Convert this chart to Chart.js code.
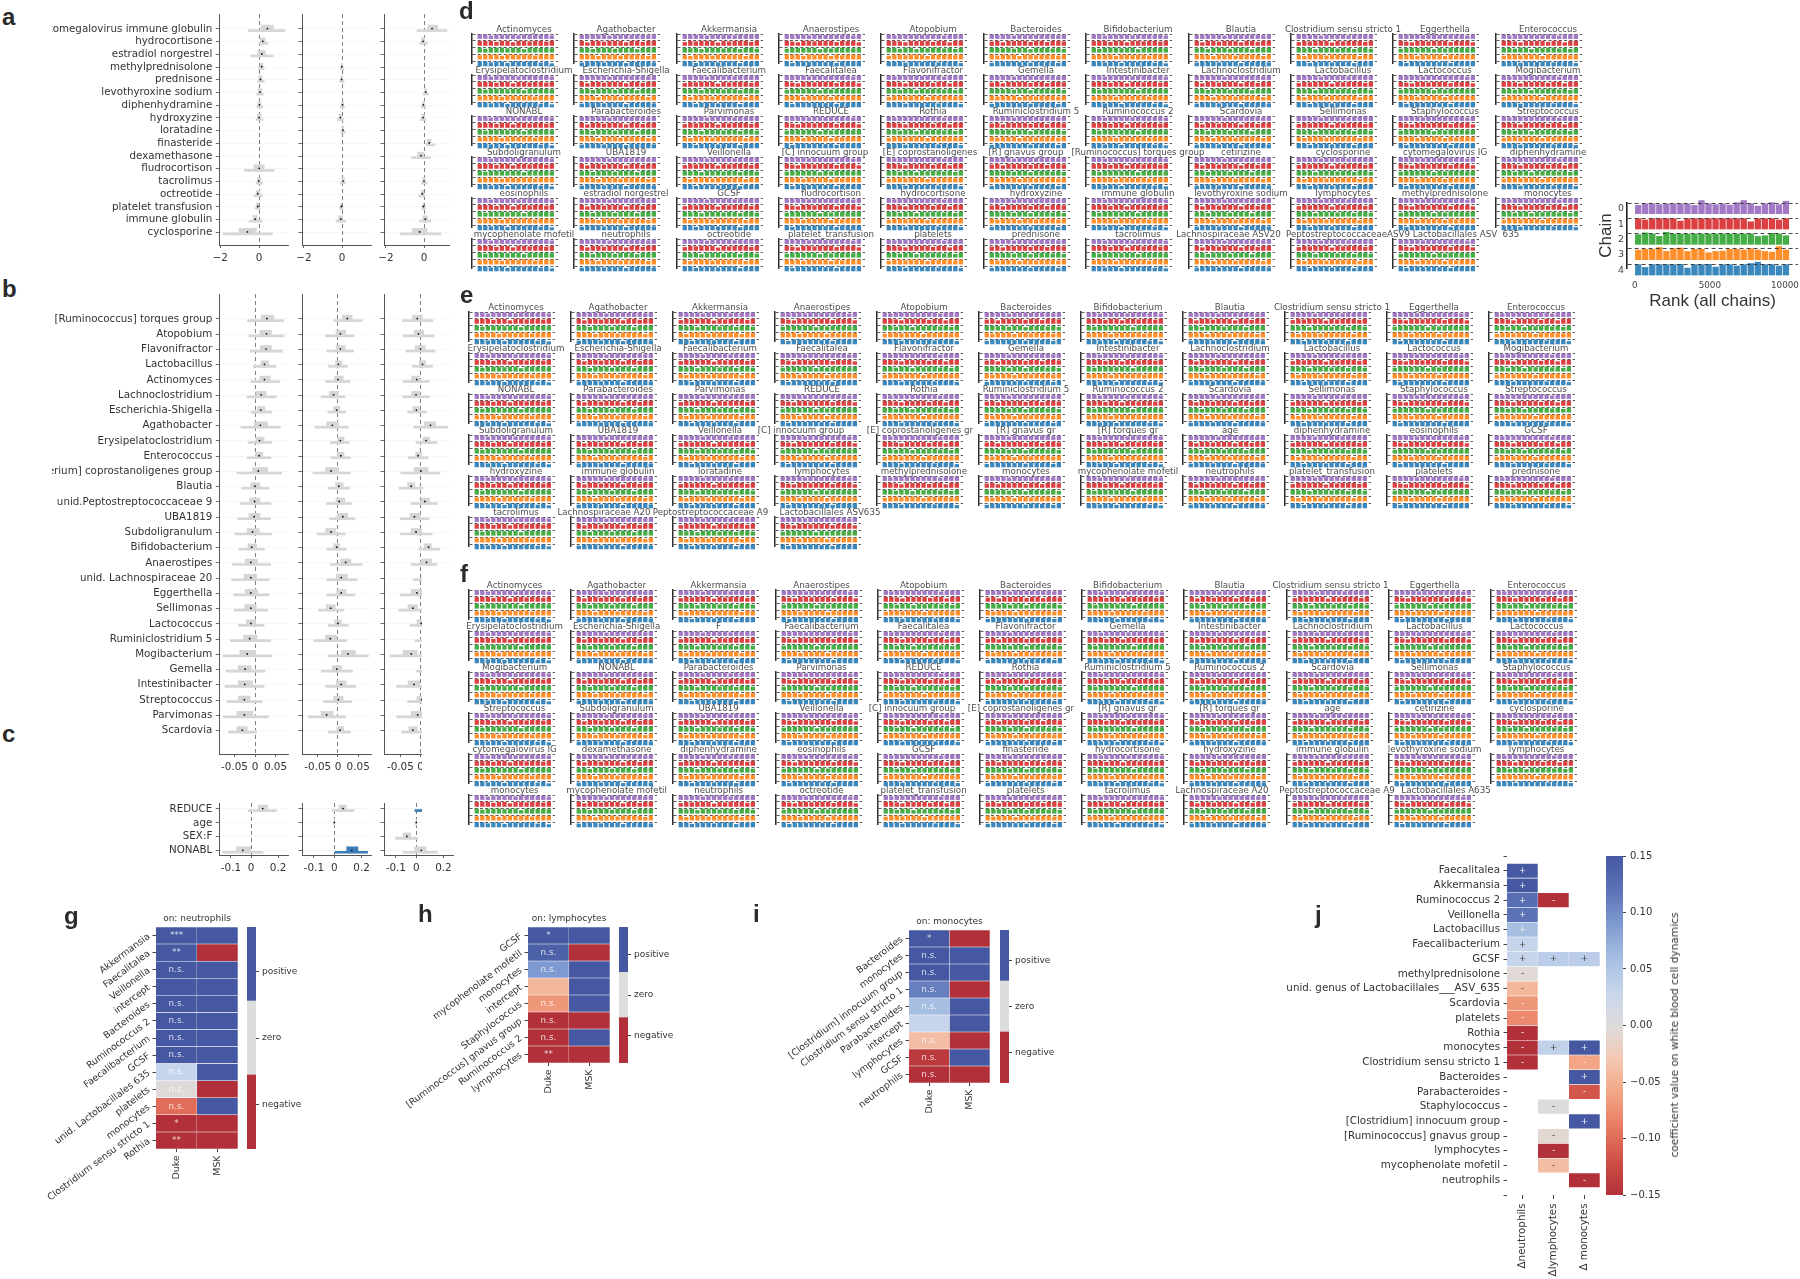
<!doctype html>
<html><head><meta charset="utf-8">
<script src="https://cdn.jsdelivr.net/npm/chart.js@4"></script>
<style>
html,body{margin:0;padding:0;background:#fff}
#fig{position:relative;width:1800px;height:1279px;overflow:hidden;background:#fff;filter:blur(.4px)}
canvas{position:absolute;display:block}
.letter{position:absolute;font:bold 24px "Liberation Sans",Arial,sans-serif;color:#2b2b2b;line-height:24px}
.patch{position:absolute;background:#fff}
.rot{position:absolute;white-space:nowrap;font:10.6px "DejaVu Sans";color:#333;transform:translate(-50%,-50%) rotate(-90deg)}
</style></head><body><div id="fig"></div>
<script>
/* ---------- panel a: medications ---------- */
const aRows=["cytomegalovirus immune globulin","hydrocortisone","estradiol norgestrel","methylprednisolone","prednisone","levothyroxine sodium","diphenhydramine","hydroxyzine","loratadine","finasteride","dexamethasone","fludrocortison","tacrolimus","octreotide","platelet transfusion","immune globulin","cyclosporine"];
const aNeutrophils=[[-.55,.1,.43,.73,1.33],[-.03,.05,.19,.31,.44],[-.43,-.08,.14,.32,.73],[-.02,.05,.14,.2,.26],[-.07,-.02,.07,.15,.26],[-.12,-.05,.05,.14,.22],[-.12,-.07,.02,.1,.19],[-.15,-.09,0,.1,.2],null,null,null,[-.75,-.26,0,.27,.77],[-.15,-.09,-.02,.09,.17],[-.26,-.15,-.07,.05,.17],[-.19,-.14,-.07,-.02,.05],[-.51,-.32,-.2,-.1,.15],[-1.86,-1.03,-.6,-.14,.68]];
const aLymphocytes=[null,null,null,[-.1,-.05,-.02,.03,.09],[-.12,-.07,-.03,.03,.1],null,[-.1,-.04,.02,.07,.12],[-.25,-.16,-.09,-.02,.07],[-.07,-.02,.04,.09,.16],null,null,null,[-.09,-.02,.05,.12,.18],null,[-.14,-.08,-.04,0,.05],[-.32,-.18,-.07,.02,.18],null];
const aMonocytes=[[-.37,.2,.42,.73,1.2],[-.23,-.14,-.05,.04,.18],null,null,null,[-.04,.02,.09,.14,.23],[-.14,-.08,-.04,.02,.1],[-.2,-.12,-.05,.02,.1],null,[.1,.15,.27,.37,.57],[-.65,-.34,-.16,-.02,.35],null,[-.14,-.07,0,.07,.16],[-.27,-.15,-.09,0,.04],[-.12,-.07,-.04,0,.07],[-.23,-.07,.07,.18,.35],[-1.26,-.62,-.23,.16,.88]];
const aTicks=[-2,0], aTickLabels=["\u22122","0"];
/* ---------- panel b: microbiome ---------- */
const bRows=["[Ruminococcus] torques group","Atopobium","Flavonifractor","Lactobacillus","Actinomyces","Lachnoclostridium","Escherichia-Shigella","Agathobacter","Erysipelatoclostridium","Enterococcus","[Eubacterium] coprostanoligenes group","Blautia","unid.Peptostreptococcaceae 9","UBA1819","Subdoligranulum","Bifidobacterium","Anaerostipes","unid. Lachnospiraceae 20","Eggerthella","Sellimonas","Lactococcus","Ruminiclostridium 5","Mogibacterium","Gemella","Intestinibacter","Streptococcus","Parvimonas","Scardovia"];
const bNeutrophils=[[-.018,.015,.029,.046,.07],[-.015,.012,.028,.04,.071],[-.012,.013,.027,.04,.067],[-.004,.015,.023,.033,.051],[-.01,.012,.023,.037,.06],[-.019,.002,.015,.027,.052],[-.009,.006,.014,.024,.041],[-.034,-.002,.013,.03,.062],[-.017,.002,.011,.022,.041],[-.019,.002,.01,.019,.039],[-.044,-.006,.008,.031,.065],[-.033,-.01,0,.012,.034],[-.036,-.013,-.001,.012,.039],[-.042,-.015,-.002,.012,.038],[-.049,-.019,-.006,.01,.04],[-.039,-.017,-.008,.004,.023],[-.055,-.024,-.01,.006,.038],[-.057,-.027,-.01,.004,.034],[-.052,-.024,-.01,.006,.034],[-.051,-.025,-.01,.003,.031],[-.041,-.021,-.01,.002,.022],[-.06,-.028,-.013,.005,.038],[-.078,-.037,-.019,.002,.04],[-.07,-.041,-.024,-.009,.024],[-.073,-.041,-.025,-.006,.022],[-.068,-.041,-.026,-.012,.017],[-.077,-.044,-.026,-.005,.033],[-.064,-.044,-.031,-.019,.004]];
const bLymphocytes=[[-.01,.011,.023,.035,.06],[-.031,-.005,.006,.019,.04],[-.028,-.005,.006,.018,.039],[-.023,-.006,.001,.01,.023],[-.031,-.009,0,.013,.03],[-.042,-.021,-.011,.001,.017],[-.025,-.011,-.003,.005,.019],[-.057,-.028,-.014,.001,.026],[-.019,-.001,.006,.015,.028],[-.017,-.002,.007,.015,.031],[-.062,-.031,-.017,.002,.03],[-.025,-.006,.002,.013,.029],[-.028,-.005,.003,.017,.033],[-.021,-.002,.012,.024,.042],[-.052,-.03,-.017,-.006,.018],[-.028,-.011,-.003,.004,.021],[-.019,.006,.019,.032,.06],[-.028,-.004,.008,.023,.047],[-.028,-.003,.008,.02,.042],[-.048,-.029,-.018,-.007,.015],[-.024,-.008,0,.008,.026],[-.06,-.031,-.019,-.003,.021],[-.025,.009,.025,.043,.075],[-.041,-.014,-.003,.009,.036],[-.031,-.004,.008,.02,.044],[-.036,-.011,.001,.013,.034],[-.074,-.042,-.028,-.012,.019],[-.023,-.003,.005,.014,.031]];
const bMonocytes=[[-.045,-.02,-.008,.005,.031],[-.043,-.016,-.005,.008,.034],[-.036,-.013,0,.012,.036],[-.02,-.003,.005,.013,.03],[-.043,-.022,-.009,-.002,.022],[-.043,-.022,-.011,-.001,.022],[-.032,-.019,-.01,-.003,.014],[-.017,.009,.025,.038,.067],[-.011,.006,.014,.023,.041],[-.03,-.012,-.006,.002,.019],[-.049,-.016,.001,.019,.048],[-.053,-.032,-.023,-.014,.006],[-.024,0,.011,.022,.042],[-.05,-.026,-.015,-.001,.021],[-.05,-.023,-.011,.003,.029],[-.004,.009,.02,.027,.048],[-.023,0,.015,.028,.041],[-.018,.004,.012,.03,.05],[-.05,-.023,-.009,.005,.02],[-.054,-.031,-.019,-.008,.015],[-.026,-.009,.002,.015,.035],[-.014,.006,.015,.03,.05],[-.075,-.043,-.023,-.008,.015],[-.01,.008,.02,.035,.055],[-.059,-.031,-.016,-.002,.015],[-.032,-.009,.003,.015,.04],[-.059,-.023,-.007,.01,.03],[-.047,-.029,-.019,-.008,.012]];
const bTicks=[-.05,0,.05], bTickLabels=["-0.05","0","0.05"];
/* ---------- panel c: covariates ---------- */
const cRows=["REDUCE","age","SEX:F","NONABL"];
const cNeutrophils=[[-.022,.052,.086,.121,.188],null,null,[-.212,-.109,-.062,-.005,.089]];
const cLymphocytes=[[-.015,.035,.064,.089,.146],[-.004,-.002,0,.002,.004],null,[.007,.091,.128,.173,.244]];
const cMonocytes=[[-.01,.05,.08,.12,.17],[-.004,-.002,0,.002,.004],[-.153,-.096,-.069,-.04,.012],[-.096,-.012,.037,.072,.156]];
const cLymphHighlighted=[3], cMonoHighlighted=[0];
const cTicks=[-.15,0,.2], cTickLabels=["-0.1","0","0.2"];
/* ---------- panels d, e, f: rank plot titles ---------- */
const dTitles=["Actinomyces","Agathobacter","Akkermansia","Anaerostipes","Atopobium","Bacteroides","Bifidobacterium","Blautia","Clostridium sensu stricto 1","Eggerthella","Enterococcus","Erysipelatoclostridium","Escherichia-Shigella","Faecalibacterium","Faecalitalea","Flavonifractor","Gemella","Intestinibacter","Lachnoclostridium","Lactobacillus","Lactococcus","Mogibacterium","NONABL","Parabacteroides","Parvimonas","REDUCE","Rothia","Ruminiclostridium 5","Ruminococcus 2","Scardovia","Sellimonas","Staphylococcus","Streptococcus","Subdoligranulum","UBA1819","Veillonella","[C] innocuum group","[E] coprostanoligenes","[R] gnavus group","[Ruminococcus] torques group","cetirizine","cyclosporine","cytomegalovirus IG","diphenhydramine","eosinophils","estradiol norgestrel","GCSF","fludrocortison","hydrocortisone","hydroxyzine","immune globulin","levothyroxine sodium","lymphocytes","methylprednisolone","monocytes","mycophenolate mofetil","neutrophils","octreotide","platelet_transfusion","platelets","prednisone","tacrolimus","Lachnospiraceae ASV20","PeptostreptococcaceaeASV9","Lactobacillales ASV  635"];
const eTitles=["Actinomyces","Agathobacter","Akkermansia","Anaerostipes","Atopobium","Bacteroides","Bifidobacterium","Blautia","Clostridium sensu stricto 1","Eggerthella","Enterococcus","Erysipelatoclostridium","Escherichia-Shigella","Faecalibacterium","Faecalitalea","Flavonifractor","Gemella","Intestinibacter","Lachnoclostridium","Lactobacillus","Lactococcus","Mogibacterium","NONABL","Parabacteroides","Parvimonas","REDUCE","Rothia","Ruminiclostridium 5","Ruminococcus 2","Scardovia","Sellimonas","Staphylococcus","Streptococcus","Subdoligranulum","UBA1819","Veillonella","[C] innocuum group","[E] coprostanoligenes gr","[R] gnavus gr","[R] torques gr","age","diphenhydramine","eosinophils","GCSF","hydroxyzine","immune globulin","loratadine","lymphocytes","methylprednisolone","monocytes","mycophenolate mofetil","neutrophils","platelet_transfusion","platelets","prednisone","tacrolimus","Lachnospiraceae A20","Peptostreptococcaceae A9","Lactobacillales ASV635"];
const fTitles=["Actinomyces","Agathobacter","Akkermansia","Anaerostipes","Atopobium","Bacteroides","Bifidobacterium","Blautia","Clostridium sensu stricto 1","Eggerthella","Enterococcus","Erysipelatoclostridium","Escherichia-Shigella","F","Faecalibacterium","Faecalitalea","Flavonifractor","Gemella","Intestinibacter","Lachnoclostridium","Lactobacillus","Lactococcus","Mogibacterium","NONABL","Parabacteroides","Parvimonas","REDUCE","Rothia","Ruminiclostridium 5","Ruminococcus 2","Scardovia","Sellimonas","Staphylococcus","Streptococcus","Subdoligranulum","UBA1819","Veillonella","[C] innocuum group","[E] coprostanoligenes gr","[R] gnavus gr","[R] torques gr","age","cetirizine","cyclosporine","cytomegalovirus IG","dexamethasone","diphenhydramine","eosinophils","GCSF","finasteride","hydrocortisone","hydroxyzine","immune globulin","levothyroxine sodium","lymphocytes","monocytes","mycophenolate mofetil","neutrophils","octreotide","platelet_transfusion","platelets","tacrolimus","Lachnospiraceae A20","Peptostreptococcaceae A9","Lactobacillales A635"];
/* rank histogram heights (1 = uniform), chain 0..4, read by eye from the thumbnails */
const rankSetA=[[1,.95,.7,1,.9,1,1,.75,1,.95,1,.85,1,.7],[.95,1,1,.8,1,1,.7,1,1,.9,1,1,.85,1],[1,.8,1,1,1,.9,1,1,.7,1,1,.95,1,.9],[.85,1,.95,1,.75,1,1,.9,1,1,.8,1,1,.95],[1,1,.8,1,.95,.7,1,1,.9,1,1,.75,1,.6]];
const rankSetB=[[.8,1,1,.9,1,.7,1,1,1,.85,1,1,.75,1],[1,.7,1,1,.85,1,1,.95,.7,1,1,.8,1,1],[.9,1,.75,1,1,1,.8,1,1,1,.7,1,.95,1],[1,1,.9,.7,1,.95,1,.8,1,1,1,.9,.7,1],[.75,1,1,1,.8,1,.95,1,.65,1,.9,1,1,.8]];
const rankSetC=[[1,1,.85,1,.7,1,.95,1,1,.75,1,.9,1,1],[.75,1,.9,1,1,1,.65,1,.9,1,1,1,.8,1],[1,.9,1,.7,1,1,1,.85,1,.95,.75,1,1,.8],[.9,.7,1,1,1,.8,1,1,.95,1,1,.7,1,.9],[1,1,.7,.9,1,1,.8,1,1,1,.65,1,.9,1]];
const rankSetD=[[.9,1,1,1,.75,.95,1,.8,1,1,.9,1,.7,1],[1,.85,.7,1,1,.9,1,1,1,.75,1,.95,1,.7],[.8,1,1,.95,1,1,.7,1,.85,1,1,1,.9,1],[1,.95,1,.75,1,.9,1,1,.7,1,.85,1,1,.9],[1,.7,1,1,.9,1,1,.85,1,.7,1,1,.95,1]];
const rankSetE=[[1,.75,1,.9,1,1,.85,1,.95,1,.7,1,1,.9],[1,1,.9,.7,1,.95,1,1,.8,1,1,.7,1,1],[.95,1,.8,1,1,.7,1,.9,1,1,.85,1,.75,1],[.75,1,1,.85,1,1,.95,.7,1,.9,1,1,.85,1],[.9,1,1,.75,1,1,.9,1,1,.8,1,.95,1,.65]];
const rankSetF=[[1,.85,1,1,.7,1,.9,1,.8,1,1,.95,.75,1],[.85,1,.7,1,.95,1,1,.8,1,1,.75,1,1,.9],[1,1,.9,1,.8,1,1,.7,1,.95,1,.85,1,.75],[1,.8,1,.9,1,.7,1,1,.85,1,.95,1,.8,1],[.7,1,.95,1,1,.85,1,.75,1,1,.9,1,.7,1]];
const rankSets=[rankSetA,rankSetB,rankSetC,rankSetD,rankSetE,rankSetF];
/* enlarged rank plot legend panel */
const rankChain0=[.81,1,1,.88,.94,1,1,1,.81,1.25,1,.88,.94,.84,1.06,1.25,1,.75,1,1.06,.88,1.19];
const rankChain1=[1,.88,1,1,1,1,.78,1,1,1,1,1,1,1,1,1,.72,1,1,1,.88,1];
const rankChain2=[.94,1.1,1,.78,1.15,1,1,1,1,1,1,1,1,1,1,1,1,.78,.84,1.06,1,.84];
const rankChain3=[.94,1,1,1.16,.81,1.06,1.12,.81,1,1,.69,.81,.84,1,1,.94,1.06,.94,.81,.75,1.25,.94];
const rankChain4=[1,.75,1,1,1,1,1.03,.69,1,1,1.03,.78,1,1,.88,1,1.1,1.22,1,1,.88,1];
const chainLabels=["0","1","2","3","4"], rankTicks=[0,5000,10000];
const chainColors=["#9467bd","#d62728","#2ca02c","#ff7f0e","#1f77b4"];
/* ---------- panels g, h, i ---------- */
const studyCols=["Duke","MSK"];
const gRows=["Akkermansia","Faecalitalea","Veillonella","intercept","Bacteroides","Ruminococcus 2","Faecalibacterium","GCSF","unid. Lactobacillales 635","platelets","monocytes","Clostridium sensu stricto 1","Rothia"];
const gDuke=[.15,.15,.15,.15,.15,.15,.15,.15,.03,-.003,-.1,-.15,-.15];
const gMSK=[.15,-.15,.15,.15,.15,.15,.15,.15,.15,-.15,.15,-.15,-.15];
const gSig=["***","**","n.s.","","n.s.","n.s.","n.s.","n.s.","n.s.","n.s.","n.s.","*","**"];
const hRows=["GCSF","mycophenolate mofetil","monocytes","intercept","Staphylococcus","[Ruminococcus] gnavus group","Ruminococcus 2","lymphocytes"];
const hDuke=[.15,.14,.09,-.045,-.07,-.15,-.15,-.15];
const hMSK=[.15,-.15,.15,.15,.15,-.15,.15,-.15];
const hSig=["*","n.s.","n.s.","","n.s.","n.s.","n.s.","**"];
const iRows=["Bacteroides","monocytes","[Clostridium] innocuum group","Clostridium sensu stricto 1","Parabacteroides","intercept","lymphocytes","GCSF","neutrophils"];
const iDuke=[.15,.15,.15,.11,.06,.03,-.04,-.14,-.15];
const iMSK=[-.15,.15,.15,-.15,.15,.15,-.15,.15,-.15];
const iSig=["*","n.s.","n.s.","n.s.","n.s.","","n.s.","n.s.","n.s."];
const signLabels=["negative","zero","positive"];
/* ---------- panel j ---------- */
const jRows=["Faecalitalea","Akkermansia","Ruminococcus 2","Veillonella","Lactobacillus","Faecalibacterium","GCSF","methylprednisolone","unid. genus of Lactobacillales___ASV_635","Scardovia","platelets","Rothia","monocytes","Clostridium sensu stricto 1","Bacteroides","Parabacteroides","Staphylococcus","[Clostridium] innocuum group","[Ruminococcus] gnavus group","lymphocytes","mycophenolate mofetil","neutrophils"];
const jCols=["\u0394neutrophils","\u0394lymphocytes","\u0394 monocytes"];
const jNeutrophils=[.15,.15,.125,.12,.06,.03,.03,-.004,-.045,-.07,-.08,-.15,-.15,-.15,null,null,null,null,null,null,null,null];
const jLymphocytes=[null,null,-.15,null,null,null,.04,null,null,null,null,null,.035,null,null,null,-.001,null,-.008,-.15,-.04,null];
const jMonocytes=[null,null,null,null,null,null,.04,null,null,null,null,null,.15,-.06,.15,-.115,null,.15,null,null,null,-.15];
const cbTicks=[-.15,-.1,-.05,0,.05,.1,.15], cbLabels=["\u22120.15","\u22120.10","\u22120.05","0.00","0.05","0.10","0.15"];
const stopValues=[-.15,-.12,-.09,-.06,-.03,0,.03,.06,.09,.12,.15];
const stopColors=["#b2303a","#cf4f46","#e87a62","#f3a585","#f3c8b3","#dddcdc","#c7d5ec","#a6bee2","#7e9ad0","#5c72b6","#4658a2"];

/* ---------- helpers ---------- */
const fig=document.getElementById("fig");
const FONT='"DejaVu Sans"';
const INK="#333333";
Chart.defaults.font.family=FONT;
Chart.overrides.bar.scales._index_.offset=false;
Chart.overrides.bar.scales._index_.grid.offset=false;
Chart.overrides.bar.scales._value_.beginAtZero=false;
const baseOpts={responsive:false,animation:false,devicePixelRatio:1,events:[],plugins:{legend:{display:false},tooltip:{enabled:false}}};
function hex(c){return [1,3,5].map(i=>parseInt(c.slice(i,i+2),16));}
function cellColor(v){
  v=Math.max(-.15,Math.min(.15,v));
  let i=0; while(i<stopValues.length-2&&v>stopValues[i+1])i++;
  const t=(v-stopValues[i])/(stopValues[i+1]-stopValues[i]),a=hex(stopColors[i]),b=hex(stopColors[i+1]);
  return "rgb("+a.map((x,k)=>Math.round(x+(b[k]-x)*t)).join(",")+")";
}
const fit=(size)=>s=>{ if(s.isHorizontal())s.height=size; else s.width=size; s.paddingLeft=s.paddingRight=s.paddingTop=s.paddingBottom=0; };
const setTicks=arr=>s=>{s.ticks=arr.map(value=>({value}));};
function addChart(rect,m,cfg){
  const c=document.createElement("canvas");
  const W=Math.round(rect.w+m.l+m.r),H=Math.round(rect.h+m.t+m.b);
  c.width=W;c.height=H;c.style.width=W+"px";c.style.height=H+"px";
  c.style.left=(rect.x-m.l)+"px";c.style.top=(rect.y-m.t)+"px";
  if(m.z)c.style.zIndex=m.z;
  fig.appendChild(c);
  cfg.options=Object.assign({},baseOpts,cfg.options);
  cfg.options.plugins=Object.assign({},baseOpts.plugins,cfg.options.plugins||{});
  return new Chart(c.getContext("2d"),cfg);
}
const titlePlugin={id:"panelTitle",afterDraw(ch,a,o){
  if(!o||!o.text)return;
  const g=ch.ctx,A=ch.chartArea;
  g.save();g.font=o.font;g.fillStyle=o.color;g.textAlign="center";g.textBaseline="middle";
  g.fillText(o.text,o.fromLeft==null?(A.left+A.right)/2:A.left+o.fromLeft,A.top+o.dy);g.restore();
}};
const cellTextPlugin={id:"cellText",afterDatasetsDraw(ch){
  const g=ch.ctx,X=ch.scales.x,Y=ch.scales.y;
  g.save();g.font="8.8px "+FONT;g.textAlign="center";g.textBaseline="middle";
  ch.data.datasets.forEach(d=>d.data.forEach(p=>{
    if(!p.t)return;
    g.fillStyle=p.tc;
    g.fillText(p.t,X.getPixelForValue(p.x[0]+.5),Y.getPixelForValue(p.y));
  }));
  g.restore();
}};

/* ---------- forest plots ---------- */
function forest(o){
  const rowPx=o.rect.h/(o.yMax-o.yMin),hl=o.hl||[];
  const col=i=>hl.includes(i)?"#3b7cb8":"#d6d6d6";
  const rows=o.marks.map((r,i)=>r?{r,i}:null).filter(Boolean);
  addChart(o.rect,{l:o.l,r:30,t:4,b:30},{type:"bar",data:{datasets:[
    {indexAxis:"y",grouped:false,order:3,barThickness:2,data:rows.map(({r,i})=>({y:i+1.6/rowPx,x:[r[0],r[4]]})),backgroundColor:rows.map(({i})=>col(i))},
    {indexAxis:"y",grouped:false,order:2,barThickness:6,data:rows.map(({r,i})=>({y:i-.9/rowPx,x:[r[1],r[3]]})),backgroundColor:rows.map(({i})=>col(i))},
    {type:"scatter",order:1,data:rows.map(({r,i})=>({x:r[2],y:i-.4/rowPx})),pointRadius:.9,pointBackgroundColor:"#111",pointBorderWidth:0}
  ]},options:{layout:{padding:{right:30,top:4}},scales:{
    x:{type:"linear",min:o.xMin,max:o.xMax,afterFit:fit(30),afterBuildTicks:setTicks(o.xTicks),
       border:{color:"#555",width:1,dash:[4,3]},
       grid:{color:c=>c.tick&&c.tick.value===0?"#707070":"rgba(0,0,0,0)",lineWidth:.9,tickLength:3,tickColor:"#555"},
       ticks:{color:INK,font:{family:FONT,size:10.4},padding:4,maxRotation:0,minRotation:0,autoSkip:false,callback:(v,i)=>o.xLabels[i]}},
    y:{type:"linear",reverse:true,min:o.yMin,max:o.yMax,afterFit:fit(o.l),afterBuildTicks:setTicks(o.labels.map((_,i)=>i)),
       border:{color:"#555",width:1,dash:[1,1.5]},
       grid:{color:"#e6e6e6",lineWidth:.8,tickLength:3.5,tickColor:"#444"},
       ticks:{display:!!o.showLabels,color:INK,font:{family:FONT,size:10.3},padding:3.5,autoSkip:false,callback:(v)=>o.labels[v]}}
  }}});
}
const lefts=[219.3,301.5,383.5];
const aRights=[288.3,370,448], bRights=[288.3,370,448], cRights=[288.3,370,452];
const aRange=[[-2.05,1.49],[-2.1,1.51],[-2.1,1.31]];
const bRange=[[-.087,.0804],[-.089,.0817],[-.0905,.0708]];
const cRange=[[-.237,.274],[-.237,.269],[-.237,.27]];
[aNeutrophils,aLymphocytes,aMonocytes].forEach((m,k)=>forest({rect:{x:lefts[k],y:14,w:aRights[k]-lefts[k],h:231},marks:m,labels:aRows,showLabels:k===0,l:k===0?167.3:8,xMin:aRange[k][0],xMax:aRange[k][1],yMin:-1.18,yMax:17,xTicks:aTicks,xLabels:aTickLabels}));
[bNeutrophils,bLymphocytes,bMonocytes].forEach((m,k)=>forest({rect:{x:lefts[k],y:294,w:bRights[k]-lefts[k],h:459.7},marks:m,labels:bRows,showLabels:k===0,l:k===0?167.3:8,xMin:bRange[k][0],xMax:bRange[k][1],yMin:-1.64,yMax:28.54,xTicks:bTicks,xLabels:bTickLabels}));
[cNeutrophils,cLymphocytes,cMonocytes].forEach((m,k)=>forest({rect:{x:lefts[k],y:803,w:cRights[k]-lefts[k],h:52.3},marks:m,labels:cRows,showLabels:k===0,l:k===0?167.3:8,xMin:cRange[k][0],xMax:cRange[k][1],yMin:-.43,yMax:3.31,xTicks:cTicks,xLabels:cTickLabels,hl:[[],cLymphHighlighted,cMonoHighlighted][k]}));
const patch=document.createElement("div");patch.className="patch";
patch.style.cssText="left:421.7px;top:567px;width:34px;height:276px;z-index:5";fig.appendChild(patch);

/* ---------- rank plots ---------- */
const heightOf=.72;
function rankDatasets(chains,binW,barPct){
  return chains.map((hs,k)=>({grouped:false,barPercentage:barPct,categoryPercentage:1,clip:false,backgroundColor:chainColors[k]+"e0",borderWidth:0,
    data:hs.map((h,b)=>({x:binW*(b+.5),y:[k+heightOf-h*heightOf,k+heightOf]}))}));
}
function smallRank(title,x,y,set,dx){
  addChart({x,y,w:86,h:29.3},{l:60,r:170,t:11,b:9},{type:"bar",plugins:[titlePlugin],data:{datasets:rankDatasets(set,10000/14,.78)},options:{
    plugins:{panelTitle:{text:title,fromLeft:dx,dy:-3.8,font:"8.7px "+FONT,color:"#4d4d4d"}},
    layout:{padding:{right:170,top:11,bottom:9}},
    scales:{
      x:{type:"linear",display:false,min:-644,max:10438,afterBuildTicks:s=>{s.ticks=[];}},
      y:{type:"linear",reverse:true,min:0,max:4.24,afterFit:fit(60),afterBuildTicks:setTicks([0,1,2,3,4]),
         border:{color:"#2e2e2e",width:1.5,dash:[3,2.2]},grid:{color:"#222",lineWidth:.75,drawTicks:false},ticks:{display:false}}
    }}});
}
function rankBlock(titles,x0,dxCol,y0,baseDx,overrides){
  titles.forEach((t,i)=>{
    const col=i%11,row=Math.floor(i/11);
    smallRank(t,x0+col*dxCol,y0+row*41,rankSets[(i+row)%rankSets.length],overrides[t]!=null?overrides[t]:baseDx);
  });
}
rankBlock(dTitles,471.7,102.4,34,52,{"[C] innocuum group":46,"[E] coprostanoligenes":49,"[R] gnavus group":42,"Lachnospiraceae ASV20":39.5,"PeptostreptococcaceaeASV9":57,"Lactobacillales ASV  635":73});
rankBlock(eTitles,469.3,102,311.7,47,{"[C] innocuum group":26,"[E] coprostanoligenes gr":43,"Lachnospiraceae A20":33,"Peptostreptococcaceae A9":37.5,"Lactobacillales ASV635":55});
rankBlock(fTitles,469,102.2,589.7,45.6,{"[C] innocuum group":34,"[E] coprostanoligenes gr":41,"Clostridium sensu stricto 1":43.5,"Lachnospiraceae A20":38,"Peptostreptococcaceae A9":50,"Lactobacillales A635":57});
addChart({x:1627.3,y:202.7,w:170.7,h:64.6},{l:35,r:2,t:3,b:45},{type:"bar",data:{datasets:rankDatasets([rankChain0,rankChain1,rankChain2,rankChain3,rankChain4],468,.9)},options:{
  layout:{padding:{right:2,top:3}},
  scales:{
    x:{type:"linear",min:-513,max:10867,afterFit:fit(45),afterBuildTicks:setTicks(rankTicks),border:{display:false},grid:{display:false},
       title:{display:true,text:"Rank (all chains)",color:INK,font:{family:'"Liberation Sans"',size:17},padding:1.4},
       ticks:{color:"#444",font:{size:8.8},padding:4,maxRotation:0,minRotation:0,autoSkip:false,callback:(v)=>String(v)}},
    y:{type:"linear",reverse:true,min:0,max:4.24,afterFit:fit(35),afterBuildTicks:setTicks([0,1,2,3,4]),
       border:{color:"#222",width:1.6,dash:[4,3],z:2},grid:{color:"#333",lineWidth:.9,z:1,drawTicks:false},
       title:{display:true,text:"Chain",color:INK,font:{family:'"Liberation Sans"',size:17},padding:4},
       ticks:{color:"#444",font:{size:9.4},padding:3,labelOffset:6,autoSkip:false,callback:(v)=>chainLabels[v]}}
  }}});

/* ---------- heat maps ---------- */
function heat(o){
  const n=o.rows.length,tk={size:o.font||9.4,family:FONT};
  const ds=o.values.map((vals,c)=>{
    const pts=vals.map((v,i)=>v==null?null:({y:i,x:[c,c+1],t:o.text?o.text(v,c,i):"",tc:o.textColor?o.textColor(v):"rgba(255,255,255,.8)"})).filter(Boolean);
    const cols=vals.filter(v=>v!=null).map(cellColor);
    return {indexAxis:"y",grouped:false,barPercentage:1,categoryPercentage:1,data:pts,backgroundColor:cols,borderWidth:.6,borderColor:o.edge||"rgba(255,255,255,.22)"};
  });
  const yTicks=o.yTicks||o.rows.map((_,i)=>i);
  addChart(o.rect,{l:o.l,r:10,t:14,b:o.b},{type:"bar",plugins:[cellTextPlugin,titlePlugin],data:{datasets:ds},options:{
    plugins:{panelTitle:{text:o.title,dy:-8.5,font:"9px "+FONT,color:INK}},
    layout:{padding:{right:10,top:14}},
    scales:{
      x:{type:"linear",min:0,max:o.values.length,afterFit:fit(o.b),afterBuildTicks:setTicks(o.cols.map((_,i)=>i+.5)),border:{display:false},
         grid:{drawOnChartArea:false,tickLength:o.tick||3,tickColor:"#444"},
         ticks:{color:INK,font:tk,padding:o.xPad||3.5,minRotation:90,maxRotation:90,autoSkip:false,callback:(v,i)=>o.cols[i]}},
      y:{type:"linear",reverse:true,min:o.yMin!=null?o.yMin:-.5,max:o.yMax!=null?o.yMax:n-.5,afterFit:fit(o.l),afterBuildTicks:setTicks(yTicks),border:{display:false},
         grid:{drawOnChartArea:false,tickLength:3.5,tickColor:"#444"},
         ticks:{color:INK,font:tk,padding:3.5,minRotation:o.rot||0,maxRotation:o.rot||0,autoSkip:false,callback:(v)=>o.rows[v]==null?"":o.rows[v]}}
    }}});
}
function signBar(rect){
  const cols=[cellColor(-.15),"#dddddd",cellColor(.15)];
  addChart(rect,{l:2,r:60,t:8,b:8},{type:"bar",data:{labels:[""],datasets:cols.map((c,k)=>({grouped:false,barPercentage:1,categoryPercentage:1,data:[[k,k+1]],backgroundColor:c,borderWidth:0}))},options:{
    layout:{padding:{left:2,top:8,bottom:8}},
    scales:{x:{display:false,offset:true},
      y:{type:"linear",position:"right",min:0,max:3,afterFit:fit(60),afterBuildTicks:setTicks([.6,1.5,2.4]),border:{display:false},
         grid:{drawOnChartArea:false,tickLength:3,tickColor:"#444"},
         ticks:{color:INK,font:{size:9},padding:3,autoSkip:false,callback:(v,i)=>signLabels[i]}}}}});
}
heat({rect:{x:156,y:927.3,w:82.3,h:222.4},rows:gRows,cols:studyCols,values:[gDuke,gMSK],text:(v,c,i)=>c===0?gSig[i]:"",title:"on: neutrophils",rot:37,l:140,b:75});
signBar({x:247.3,y:927.3,w:9,h:222.4});
heat({rect:{x:528.3,y:927.3,w:81.5,h:136.4},rows:hRows,cols:studyCols,values:[hDuke,hMSK],text:(v,c,i)=>c===0?hSig[i]:"",title:"on: lymphocytes",rot:37,l:140,b:75});
signBar({x:619.2,y:927.3,w:9,h:136.4});
heat({rect:{x:909,y:930.3,w:81.4,h:153.4},rows:iRows,cols:studyCols,values:[iDuke,iMSK],text:(v,c,i)=>c===0?iSig[i]:"",title:"on: monocytes",rot:37,l:140,b:75});
signBar({x:999.9,y:930.3,w:9,h:153.4});
heat({rect:{x:1506.7,y:856,w:92.6,h:339.3},rows:jRows,cols:jCols,values:[jNeutrophils,jLymphocytes,jMonocytes],font:10.3,l:240,b:82,tick:4,xPad:4.5,
  yMin:-1,yMax:22,yTicks:[-1].concat(jRows.map((_,i)=>i),[22]),edge:"rgba(255,255,255,.5)",
  text:v=>v>0?"+":"-",textColor:v=>Math.abs(v)<.05?"#444":"#f4f4f4"});
addChart({x:1605.7,y:856,w:16.6,h:339.3},{l:2,r:60,t:8,b:8},{type:"bar",data:{labels:[""],datasets:[{barPercentage:1,categoryPercentage:1,borderWidth:0,data:[[cbTicks[0],cbTicks[6]]],
  backgroundColor:c=>{const ch=c.chart,A=ch.chartArea;if(!A)return "#ddd";const g=ch.ctx.createLinearGradient(0,A.bottom,0,A.top);stopColors.forEach((s,i)=>g.addColorStop((stopValues[i]+.15)/.3,s));return g;}}]},options:{
  layout:{padding:{left:2,top:8,bottom:8}},
  scales:{x:{display:false,offset:true},
    y:{type:"linear",position:"right",min:-.15,max:.15,afterFit:fit(60),afterBuildTicks:setTicks(cbTicks),border:{display:false},
       grid:{drawOnChartArea:false,tickLength:3,tickColor:"#444"},
       ticks:{color:INK,font:{size:10},padding:4,autoSkip:false,callback:(v,i)=>cbLabels[i]}}}}});
const cbTitle=document.createElement("div");cbTitle.className="rot";cbTitle.textContent="coefficient value on white blood cell dynamics";
cbTitle.style.left="1674px";cbTitle.style.top="1035px";fig.appendChild(cbTitle);

/* ---------- panel letters ---------- */
[["a",2,5],["b",2,277],["c",2,722],["d",459,-1],["e",460,283],["f",460,562],["g",64,904],["h",418,902],["i",753,902],["j",1315,903]].forEach(([t,x,y])=>{
  const d=document.createElement("div");d.className="letter";d.textContent=t;d.style.left=x+"px";d.style.top=y+"px";fig.appendChild(d);
});
</script></body></html>
